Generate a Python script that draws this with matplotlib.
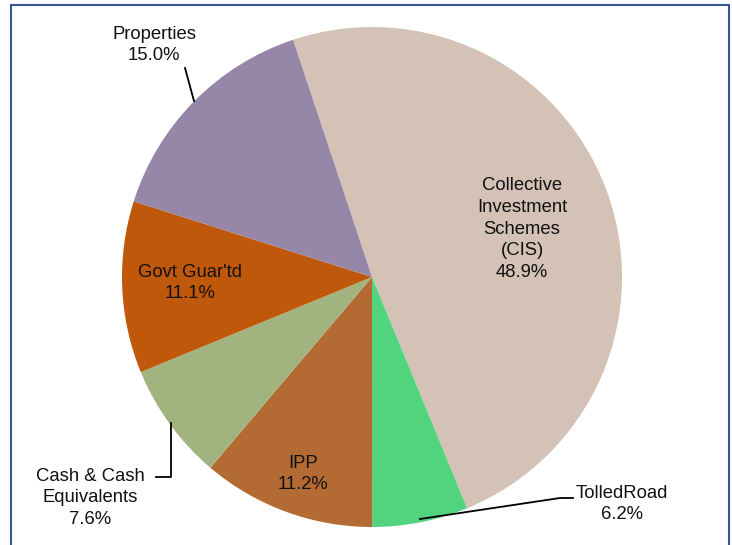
import matplotlib
matplotlib.use("Agg")
import matplotlib.pyplot as plt
from matplotlib.patches import Rectangle

labels = ["Collective\nInvestment\nSchemes\n(CIS)", "TolledRoad", "IPP",
          "Cash & Cash\nEquivalents", "Govt Guar'td", "Properties"]
values = [48.9, 6.2, 11.2, 7.6, 11.1, 15.0]
colors = ["#D3C2B5", "#52D47F", "#B46B33", "#A1B480", "#C0580B", "#9686A7"]

plt.rcParams['font.family'] = ['Liberation Sans', 'DejaVu Sans']

W, H = 732, 545
fig = plt.figure(figsize=(W / 100, H / 100), dpi=100)
fig.patch.set_facecolor("white")

# frame around chart
fig.patches.append(Rectangle((11 / W, -0.05), (729 - 11) / W, (H - 5) / H + 0.05,
                             transform=fig.transFigure, fill=False,
                             edgecolor="#3A5795", linewidth=1.5))

cx, cy, R = 372, 277, 250
ax = fig.add_axes([(cx - R) / W, (H - cy - R) / H, 2 * R / W, 2 * R / H])

ax.pie(values, colors=colors, startangle=108.4, counterclock=False, radius=1,
       wedgeprops=dict(linewidth=0))
ax.set_xlim(-1, 1)
ax.set_ylim(-1, 1)
ax.set_aspect("equal")
ax.axis("off")


def d(px, py):
    return ((px - cx) / R, (cy - py) / R)


# label centers (pixel layout)
pos = [(522, 229), (622, 504), (303, 474), (90, 498), (190, 283), (154, 45)]
for lab, v, p in zip(labels, values, pos):
    x, y = d(*p)
    ax.text(x, y, f"{lab}\n{v:.1f}%", ha="center", va="center", fontsize=13.3,
            color="#111111", linespacing=1.36, clip_on=False)

# leader lines
leaders = [
    [(185, 68), (194, 101)],
    [(156, 477), (171, 477), (171, 423)],
    [(420, 519), (560, 498), (573, 498)],
]
for pts in leaders:
    xs, ys = zip(*[d(*p) for p in pts])
    ax.plot(xs, ys, color="black", linewidth=1.3, clip_on=False)

fig.savefig("out.png", dpi=100, facecolor="white")
